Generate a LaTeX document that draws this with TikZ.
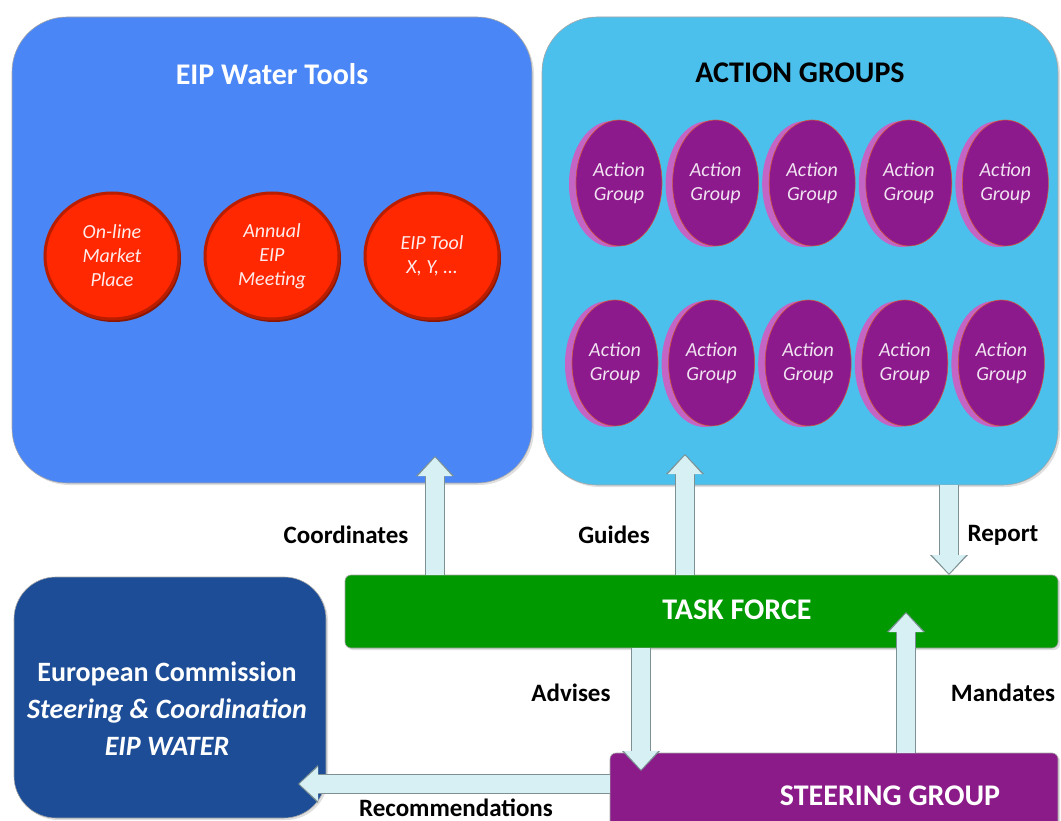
\documentclass[tikz,border=0pt]{standalone}
\usepackage{fontspec}
\setmainfont{Carlito}
\usetikzlibrary{positioning,shapes.geometric,shadows,arrows.meta}
\definecolor{toolsblue}{RGB}{74,134,245}
\definecolor{groupsblue}{RGB}{76,192,236}
\definecolor{forcegreen}{RGB}{0,153,0}
\definecolor{steerpurple}{RGB}{139,27,137}
\definecolor{ecblue}{RGB}{28,77,150}
\definecolor{toolred}{RGB}{255,40,0}
\definecolor{coinpurple}{RGB}{140,26,140}
\definecolor{coinrim}{RGB}{196,100,196}
\definecolor{flowfill}{RGB}{214,240,244}
\definecolor{flowedge}{RGB}{125,145,148}
\tikzset{
  panel/.style={
    rounded corners=#1,
    draw=black!35,
    line width=0.6pt,
    drop shadow={opacity=0.25, shadow xshift=2pt, shadow yshift=-2pt},
  },
  bar/.style={
    rounded corners=6pt,
    draw=black!35,
    line width=0.6pt,
    drop shadow={opacity=0.25, shadow xshift=2pt, shadow yshift=-2pt},
  },
  panel title/.style={font=\fontsize{30}{36}\selectfont\bfseries},
  heading/.style={font=\fontsize{30}{36}\selectfont\bfseries, text=white},
  ec text/.style={font=\fontsize{28}{37}\selectfont\bfseries, text=white, align=center},
  flow label/.style={font=\fontsize{25}{30}\selectfont\bfseries},
  tool disc/.style={
    ellipse, fill=toolred, draw=toolred!72!black, line width=3pt,
    minimum width=134pt, minimum height=126pt, inner sep=0pt,
    general shadow={fill=toolred!55!black, shadow xshift=2pt, shadow yshift=-3pt},
    font=\fontsize{20}{24}\selectfont\itshape, text=white!92!red, align=center,
  },
  coin/.style={
    ellipse, fill=coinpurple, draw=orange!60!coinpurple, line width=0.6pt,
    minimum width=86pt, minimum height=126pt, inner sep=0pt,
    general shadow={fill=coinrim, shadow xshift=-7pt, shadow yshift=-1pt},
    font=\fontsize{20}{24}\selectfont\itshape, text=white!88!coinpurple, align=center,
  },
  flow arrow/.style={
    draw=flowfill, line width=18pt, shorten >=1.5pt,
    -{Triangle[width=34pt, length=18.5pt, line width=0pt]},
    preaction={draw=flowedge, line width=20.5pt, shorten >=0pt,
      -{Triangle[width=38pt, length=20pt, line width=0pt]}},
  },
}

\begin{document}
\begin{tikzpicture}[x=1pt, y=-1pt]
  \useasboundingbox (0,0) rectangle (1061,821);

  % upper panels
  \node [panel=55pt, fill=toolsblue, minimum width=520pt, minimum height=466pt] (tools) at (272,250) {};
  \node [panel=55pt, fill=groupsblue, minimum width=516pt, minimum height=468pt] (groups) at (800,251) {};
  \node [panel title, text=white, below=43pt of tools.north] (toolstitle) {EIP Water Tools};
  \node [panel title, below=43pt of groups.north] (groupstitle) {ACTION GROUPS};

  % water tools
  \node [tool disc] (market) at (112,256) {On-line\\Market\\Place};
  \node [tool disc, right=23pt of market] (meeting) {Annual\\EIP\\Meeting};
  \node [tool disc, right=23pt of meeting] (eiptool) {EIP Tool\\X, Y, \ldots};

  % action groups
  \node [coin] (ag1) at (619,183) {Action\\Group};
  \node [coin, right=10pt of ag1] (ag2) {Action\\Group};
  \node [coin, right=10pt of ag2] (ag3) {Action\\Group};
  \node [coin, right=10pt of ag3] (ag4) {Action\\Group};
  \node [coin, right=10pt of ag4] (ag5) {Action\\Group};
  \node [coin] (ag6) at (615,363) {Action\\Group};
  \node [coin, right=10pt of ag6] (ag7) {Action\\Group};
  \node [coin, right=10pt of ag7] (ag8) {Action\\Group};
  \node [coin, right=10pt of ag8] (ag9) {Action\\Group};
  \node [coin, right=10pt of ag9] (ag10) {Action\\Group};

  % lower boxes
  \node [bar, fill=forcegreen, minimum width=713pt, minimum height=73pt] (force) at (701.5,611.5) {};
  \node [heading] (forcetext) at (737,610) {TASK FORCE};
  \node [bar, fill=steerpurple, minimum width=448pt, minimum height=84pt] (steering) at (834,795) {};
  \node [heading] (steeringtext) at (890,796) {STEERING GROUP};
  \node [panel=42pt, fill=ecblue, minimum width=312pt, minimum height=241pt] (ec) at (170,697.5) {};
  \node [ec text] (ectext) at (167,709) {European Commission\\{\itshape Steering \& Coordination}\\{\itshape EIP WATER}};

  % arrow tips
  \coordinate (coordinates tip) at (435,456);
  \coordinate (guides tip) at (685,454);
  \coordinate (report tip) at (949,575);
  \coordinate (advises tip) at (641,771);
  \coordinate (mandates tip) at (906,612);
  \coordinate (recommend tip) at (298,784);

  \draw [flow arrow] (force.north -| coordinates tip) -- (coordinates tip);
  \draw [flow arrow] (force.north -| guides tip) -- (guides tip);
  \draw [flow arrow] (groups.south -| report tip) -- (report tip);
  \draw [flow arrow] (force.south -| advises tip) -- (advises tip);
  \draw [flow arrow] (steering.north -| mandates tip) -- (mandates tip);
  \draw [flow arrow] (steering.west |- recommend tip) -- (recommend tip);

  % arrow labels
  \node [flow label] (coordlabel) at (346,535) {Coordinates};
  \node [flow label] (guideslabel) at (614,535) {Guides};
  \node [flow label] (reportlabel) at (1003,535) {Report};
  \node [flow label] (adviseslabel) at (571,693) {Advises};
  \node [flow label] (mandateslabel) at (1003,693) {Mandates};
  \node [flow label] (recommendlabel) at (456,808) {Recommendations};
\end{tikzpicture}
\end{document}
